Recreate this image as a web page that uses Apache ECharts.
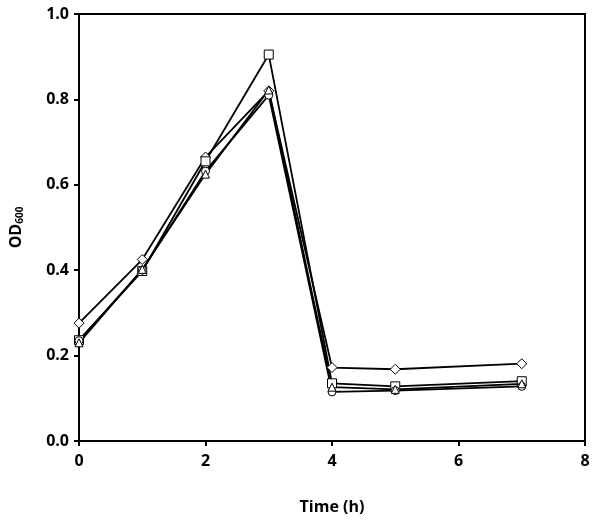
<!DOCTYPE html>
<html><head><meta charset="utf-8">
<script src="https://cdn.jsdelivr.net/npm/echarts@6/dist/echarts.min.js"></script>
<style>html,body{margin:0;padding:0;background:#fff}#c{width:600px;height:521px}</style>
</head><body><div id="c"></div>
<script>
const times = [0, 1, 2, 3, 4, 5, 7];
const seriesDiamond = [0.276, 0.425, 0.665, 0.82, 0.172, 0.168, 0.181];
const seriesSquare = [0.236, 0.398, 0.655, 0.905, 0.135, 0.128, 0.140];
const seriesCircle = [0.235, 0.400, 0.632, 0.810, 0.115, 0.118, 0.128];
const seriesTriangle = [0.230, 0.402, 0.625, 0.822, 0.126, 0.121, 0.134];
const xTicks = [0, 2, 4, 6, 8];
const yTicks = [0, 0.2, 0.4, 0.6, 0.8, 1.0];

const font = 'Open Sans';
function mk(name, vals, symbol, size) {
  return {
    name, type: 'line', data: times.map((t, i) => [t, vals[i]]),
    symbol, symbolSize: size,
    lineStyle: {color: '#000', width: 1.8},
    itemStyle: {color: '#fff', borderColor: '#000', borderWidth: 1},
    z: 3
  };
}
const chart = echarts.init(document.getElementById('c'), null, {renderer: 'canvas'});
chart.setOption({
  animation: false,
  backgroundColor: '#fff',
  grid: {left: 75, right: 15, top: 14, bottom: 80, show: true, borderColor: '#000', borderWidth: 2},
  xAxis: {
    type: 'value', min: 0, max: 8, interval: 2,
    axisLine: {lineStyle: {color: '#000', width: 2}},
    axisTick: {show: true, length: 5, lineStyle: {color: '#000', width: 2}},
    splitLine: {show: false},
    axisLabel: {color: '#000', fontFamily: font, fontWeight: 'bold', fontSize: 16, margin: 12,
      formatter: v => xTicks.includes(v) ? String(v) : ''},
    name: 'Time (h)', nameLocation: 'middle', nameGap: 58,
    nameTextStyle: {color: '#000', fontFamily: font, fontWeight: 'bold', fontSize: 16}
  },
  yAxis: {
    type: 'value', min: 0, max: 1.0, interval: 0.2,
    axisLine: {lineStyle: {color: '#000', width: 2}},
    axisTick: {show: true, length: 5, lineStyle: {color: '#000', width: 2}},
    splitLine: {show: false},
    axisLabel: {color: '#000', fontFamily: font, fontWeight: 'bold', fontSize: 16, margin: 10,
      formatter: v => yTicks.some(t => Math.abs(t - v) < 1e-9) ? v.toFixed(1) : ''},
    name: '{a|OD}{b|600}', nameLocation: 'middle', nameGap: 54, nameRotate: 90,
    nameTextStyle: {rich: {
      a: {color: '#000', fontFamily: font, fontWeight: 'bold', fontSize: 16},
      b: {color: '#000', fontFamily: font, fontWeight: 'bold', fontSize: 10, verticalAlign: 'bottom', padding: [8, 0, 0, 0]}
    }}
  },
  series: [
    mk('diamond', seriesDiamond, 'diamond', 10),
    mk('square', seriesSquare, 'rect', 9),
    mk('circle', seriesCircle, 'circle', 8),
    mk('triangle', seriesTriangle, 'triangle', 8)
  ]
});
</script></body></html>
